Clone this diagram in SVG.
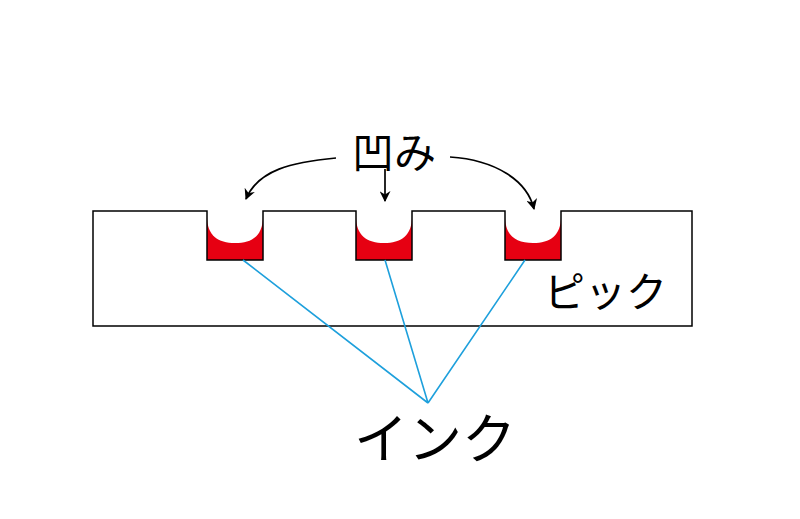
<svg xmlns="http://www.w3.org/2000/svg" width="800" height="519" viewBox="0 0 800 519">
<style>
.lbl{font-family:"Noto Sans CJK JP","Noto Sans",sans-serif;font-weight:400;fill:#000}
.pit{fill:#e60012}
.cut{fill:#fff}
.arr{fill:none;stroke:#000;stroke-width:1.7}
.ink{stroke:#1ea0dc;stroke-width:1.6;fill:none}
</style>
<defs>
<marker id="ah" viewBox="0 0 10 10" refX="9" refY="5" markerWidth="11" markerHeight="11" markerUnits="userSpaceOnUse" orient="auto">
<path d="M0,0 L10,5 L0,10 L3,5 Z" fill="#000"/>
</marker>
</defs>
<rect width="800" height="519" fill="#fff"/>
<g id="pick">
<g id="pit1"><rect class="pit" x="207" y="211" width="56" height="49"/><path class="cut" d="M207,211 L207,216 C207,236 218,243 235,243 C252,243 263,236 263,216 L263,211 Z"/></g>
<g id="pit2"><rect class="pit" x="356" y="211" width="56" height="49"/><path class="cut" d="M356,211 L356,216 C356,236 367,243 384,243 C401,243 412,236 412,216 L412,211 Z"/></g>
<g id="pit3"><rect class="pit" x="505" y="211" width="56" height="49"/><path class="cut" d="M505,211 L505,216 C505,236 516,243 533,243 C550,243 561,236 561,216 L561,211 Z"/></g>
<path d="M93,211 H207 V260 H263 V211 H356 V260 H412 V211 H505 V260 H561 V211 H692 V326 H93 Z" fill="none" stroke="#000" stroke-width="1.5"/>
<text class="lbl" x="544" y="307" font-size="41">ピック</text>
</g>
<g id="labels">
<text class="lbl" x="352" y="168" font-size="42">凹み</text>
<text class="lbl" x="354" y="459" font-size="54">インク</text>
</g>
<g id="connectors">
<path class="arr" d="M336,158 C292,162 258,170 246,199" marker-end="url(#ah)"/>
<path class="arr" d="M385,169 L385,201" marker-end="url(#ah)"/>
<path class="arr" d="M450,157 C495,160 527,180 534,209" marker-end="url(#ah)"/>
<path class="ink" d="M243,260 L428,403 M385,260 L428,403 M525,260 L428,403"/>
</g>
</svg>
